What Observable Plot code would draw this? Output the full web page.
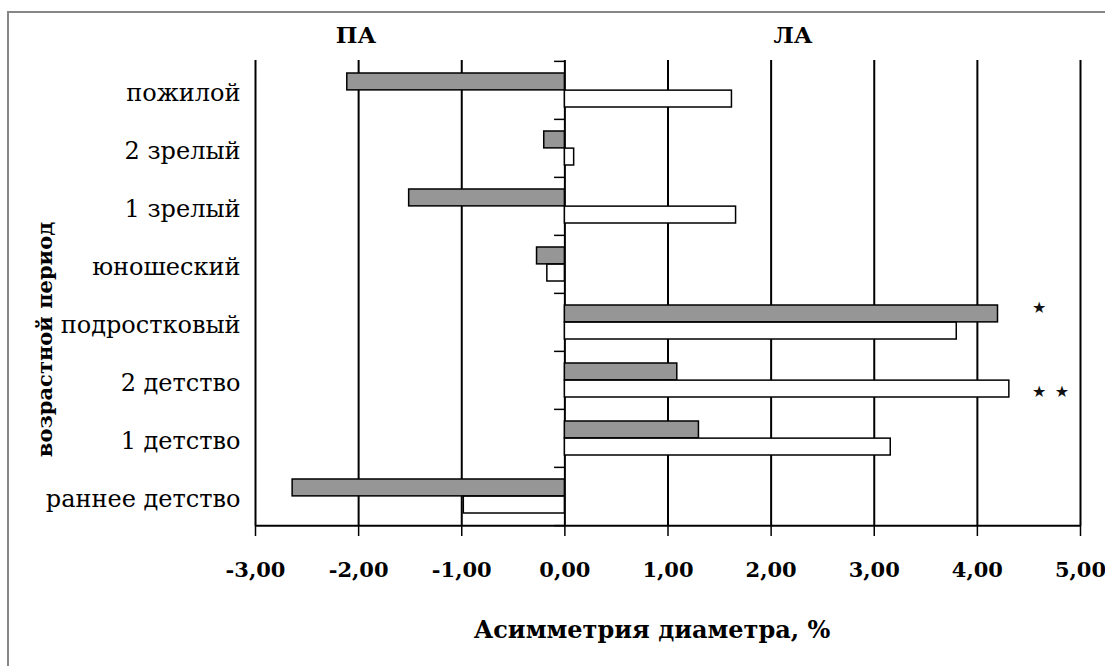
<!DOCTYPE html>
<html>
<head>
<meta charset="utf-8">
<script src="https://cdn.jsdelivr.net/npm/d3@7"></script>
<script src="https://cdn.jsdelivr.net/npm/@observablehq/plot@0.6"></script>
<style>
  html, body { margin: 0; padding: 0; background: #ffffff; }
  #wrap { position: relative; width: 1105px; height: 666px; overflow: hidden; background: #ffffff; }
  #border { position: absolute; left: 7px; top: 11px; width: 1200px; height: 800px; border: 2px solid #878787; box-sizing: border-box; }
  #wrap svg { position: absolute; left: 0; top: 0; }
</style>
</head>
<body>
<div id="wrap"><div id="border"></div></div>
<script>
// ---- data ----
const categories = ["пожилой", "2 зрелый", "1 зрелый", "юношеский", "подростковый", "2 детство", "1 детство", "раннее детство"];
const seriesNames = ["ряд 1", "ряд 2"];
const grayValues  = [-2.11, -0.20, -1.51, -0.27, 4.20, 1.09, 1.30, -2.64];
const whiteValues = [ 1.62,  0.09,  1.66, -0.17, 3.80, 4.31, 3.16, -0.98];
const xTicks = [-3, -2, -1, 0, 1, 2, 3, 4, 5];
const sideLabels = ["ПА", "ЛА"];
const xTitle = "Асимметрия диаметра, %";
const yTitle = "возрастной период";
const starCategories = ["подростковый", "2 детство", "2 детство"];
const starSeries = ["ряд 1", "ряд 2", "ряд 2"];
const starX = [4.6, 4.6, 4.82];
const starText = ["★", "★", "★"];

// ---- tables built from the arrays ----
const rows = [];
categories.forEach((c, i) => {
  rows.push({category: c, series: seriesNames[0], value: grayValues[i]});
  rows.push({category: c, series: seriesNames[1], value: whiteValues[i]});
});
const stars = starCategories.map((c, i) => ({category: c, series: starSeries[i], x: starX[i], text: starText[i]}));

// ---- layout ----
const width = 1105, height = 666;
const mt = 60, mb = 140, ml = 255, mr = 25;
const band = (height - mt - mb) / categories.length;
const pad = 12;
const fmt = d => d.toFixed(2).replace(".", ",");

const chart = Plot.plot({
  width, height,
  marginTop: mt, marginBottom: mb, marginLeft: ml, marginRight: mr,
  style: {fontFamily: "'DejaVu Serif', serif", color: "#000", background: "transparent"},
  x: {domain: [-3, 5]},
  y: {domain: categories, padding: 0},
  marks: [
    // vertical gridlines (incl. left axis line)
    Plot.ruleX(xTicks, {stroke: "#000", strokeWidth: 2}),
    // bars
    Plot.barX(rows.filter(d => d.series === seriesNames[0]), {
      x: "value", y: "category", fill: "#969696", stroke: "#000", strokeWidth: 1.5,
      insetTop: pad, insetBottom: band / 2
    }),
    Plot.barX(rows.filter(d => d.series === seriesNames[1]), {
      x: "value", y: "category", fill: "#ffffff", stroke: "#000", strokeWidth: 1.5,
      insetTop: band / 2, insetBottom: pad
    }),
    // category boundary ticks at zero line
    Plot.ruleY(categories, {y: d => d, x1: -0.1, x2: 0, dy: -band / 2, stroke: "#000", strokeWidth: 1.5}),
    Plot.ruleY([categories[categories.length - 1]], {y: d => d, x1: -0.1, x2: 0, dy: band / 2, stroke: "#000", strokeWidth: 1.5}),
    // bottom axis line
    Plot.ruleY([categories[categories.length - 1]], {y: d => d, dy: band / 2, stroke: "#000", strokeWidth: 2}),
    // axes
    Plot.axisX({ticks: xTicks, tickFormat: fmt, tickSize: 10, tickPadding: 26, fontSize: 21, fontWeight: "bold", label: null, stroke: "#000", strokeWidth: 1.5}),
    Plot.axisY({tickSize: 0, tickPadding: 15, fontSize: 24, label: null, dy: 3}),
    // side labels
    Plot.text([sideLabels[0]], {frameAnchor: "top", lineAnchor: "middle", textAnchor: "middle", dx: -312, dy: -25, fontSize: 23, fontWeight: "bold"}),
    Plot.text([sideLabels[1]], {frameAnchor: "top", lineAnchor: "middle", textAnchor: "middle", dx: 125, dy: -25, fontSize: 23, fontWeight: "bold"}),
    // axis titles
    Plot.text([xTitle], {frameAnchor: "bottom", lineAnchor: "middle", textAnchor: "middle", dx: -16, dy: 104, fontSize: 24, fontWeight: "bold"}),
    Plot.text([yTitle], {frameAnchor: "left", lineAnchor: "middle", textAnchor: "middle", rotate: -90, dx: -210, dy: 46, fontSize: 21, fontWeight: "bold"}),
    // significance stars
    Plot.text(stars.filter(d => d.series === seriesNames[0]), {x: "x", y: "category", text: "text", dy: -15, fontSize: 16, fontFamily: "'DejaVu Sans', sans-serif", fill: "#111"}),
    Plot.text(stars.filter(d => d.series === seriesNames[1]), {x: "x", y: "category", text: "text", dy: 11, fontSize: 16, fontFamily: "'DejaVu Sans', sans-serif", fill: "#111"})
  ]
});
document.getElementById("wrap").appendChild(chart);
</script>
</body>
</html>
